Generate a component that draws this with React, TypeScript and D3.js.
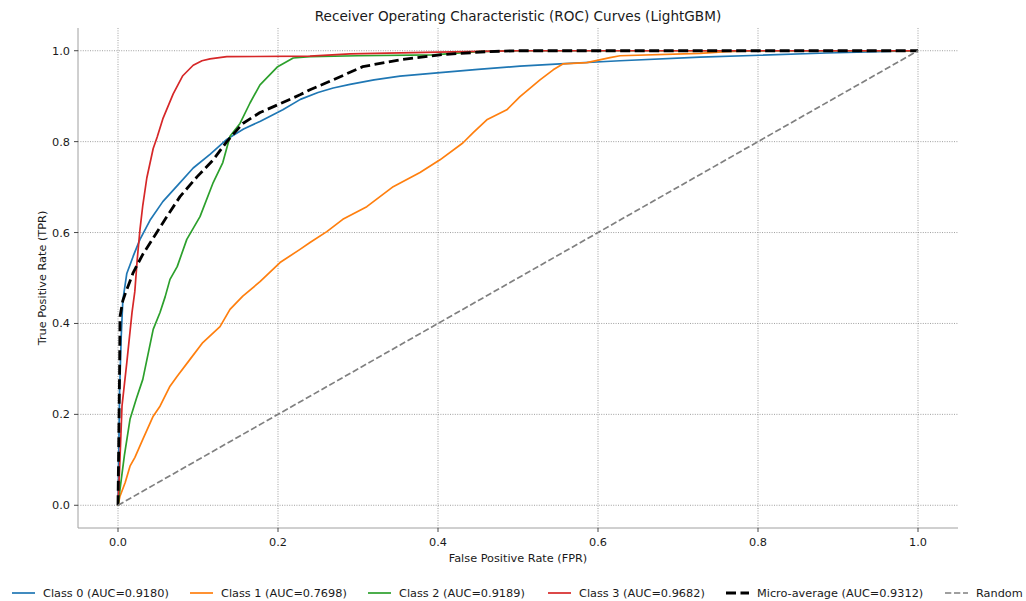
import React from 'react';
import * as d3 from 'd3';

// ROC points, [fpr, tpr]
const class0Roc: [number, number][] = [
  [0, 0], [0.001, 0.12], [0.002, 0.25], [0.004, 0.37], [0.006, 0.45], [0.011, 0.51],
  [0.019, 0.548], [0.0275, 0.585], [0.04, 0.627], [0.056, 0.668], [0.075, 0.705],
  [0.094, 0.742], [0.115, 0.772], [0.136, 0.805], [0.157, 0.828], [0.178, 0.845],
  [0.206, 0.87], [0.228, 0.893], [0.25, 0.908], [0.269, 0.918], [0.29, 0.926],
  [0.32, 0.936], [0.3525, 0.944], [0.4025, 0.952], [0.45, 0.959], [0.5025, 0.966],
  [0.5525, 0.971], [0.6275, 0.978], [0.7275, 0.986], [0.8025, 0.99], [0.886, 0.995], [1, 1],
];

const class1Roc: [number, number][] = [
  [0, 0], [0.0025, 0.02], [0.009, 0.05], [0.015, 0.086], [0.021, 0.105], [0.031, 0.145],
  [0.044, 0.196], [0.0525, 0.218], [0.065, 0.262], [0.074, 0.284], [0.09, 0.321],
  [0.106, 0.358], [0.1275, 0.393], [0.14, 0.431], [0.156, 0.46], [0.1775, 0.492],
  [0.2025, 0.534], [0.2275, 0.563], [0.24, 0.578], [0.261, 0.602], [0.281, 0.629],
  [0.311, 0.657], [0.344, 0.701], [0.3775, 0.732], [0.4025, 0.76], [0.431, 0.797],
  [0.444, 0.82], [0.461, 0.848], [0.486, 0.87], [0.5025, 0.899], [0.5275, 0.936],
  [0.544, 0.958], [0.556, 0.971], [0.586, 0.974], [0.615, 0.985], [0.6275, 0.989],
  [0.7275, 0.994], [0.76, 0.998], [0.8, 1], [1, 1],
];

const class2Roc: [number, number][] = [
  [0, 0], [0.0025, 0.035], [0.008, 0.11], [0.015, 0.189], [0.023, 0.235], [0.031, 0.277],
  [0.044, 0.387], [0.0525, 0.424], [0.059, 0.459], [0.065, 0.497], [0.074, 0.525],
  [0.086, 0.585], [0.1025, 0.635], [0.119, 0.71], [0.131, 0.754], [0.14, 0.812],
  [0.1525, 0.84], [0.165, 0.885], [0.1775, 0.925], [0.199, 0.964], [0.219, 0.984],
  [0.24, 0.987], [0.3, 0.989], [0.394, 0.991], [0.45, 0.998], [0.5, 1], [1, 1],
];

const class3Roc: [number, number][] = [
  [0, 0], [0.002, 0.08], [0.005, 0.218], [0.011, 0.314], [0.0175, 0.424], [0.021, 0.47],
  [0.024, 0.54], [0.0275, 0.607], [0.031, 0.66], [0.036, 0.72], [0.044, 0.785],
  [0.049, 0.81], [0.056, 0.85], [0.069, 0.905], [0.081, 0.945], [0.094, 0.968],
  [0.105, 0.978], [0.115, 0.982], [0.136, 0.987], [0.24, 0.988], [0.29, 0.993],
  [0.4, 0.997], [0.5, 1], [1, 1],
];

const microRoc: [number, number][] = [
  [0, 0], [0.001, 0.15], [0.002, 0.3], [0.0025, 0.415], [0.006, 0.45], [0.009, 0.465],
  [0.019, 0.512], [0.031, 0.552], [0.044, 0.588], [0.061, 0.635], [0.0775, 0.679],
  [0.099, 0.723], [0.119, 0.76], [0.136, 0.8], [0.156, 0.84], [0.1775, 0.864],
  [0.206, 0.886], [0.2275, 0.903], [0.24, 0.914], [0.269, 0.936], [0.306, 0.965],
  [0.3525, 0.98], [0.4025, 0.991], [0.461, 0.998], [0.5, 1], [1, 1],
];

const randomRoc: [number, number][] = [[0, 0], [1, 1]];

const seriesLabels = [
  'Class 0 (AUC=0.9180)',
  'Class 1 (AUC=0.7698)',
  'Class 2 (AUC=0.9189)',
  'Class 3 (AUC=0.9682)',
  'Micro-average (AUC=0.9312)',
  'Random',
];

const ticks = [0, 0.2, 0.4, 0.6, 0.8, 1.0];

const App = () => {
  const width = 1026;
  const height = 601;
  const margin = { top: 28, right: 68, bottom: 73, left: 78 };
  const font = '"DejaVu Sans", sans-serif';

  const xScale = d3
    .scaleLinear()
    .domain([-0.05, 1.05])
    .range([margin.left, width - margin.right]);
  const yScale = d3
    .scaleLinear()
    .domain([-0.05, 1.05])
    .range([height - margin.bottom, margin.top]);

  const line = d3
    .line<[number, number]>()
    .x(d => xScale(d[0]))
    .y(d => yScale(d[1]));

  const series = [
    { data: class0Roc, color: '#1f77b4', width: 1.7, dash: undefined },
    { data: class1Roc, color: '#ff7f0e', width: 1.7, dash: undefined },
    { data: class2Roc, color: '#2ca02c', width: 1.7, dash: undefined },
    { data: class3Roc, color: '#d62728', width: 1.7, dash: undefined },
    { data: microRoc, color: '#000000', width: 2.8, dash: '10,4.5' },
    { data: randomRoc, color: '#808080', width: 1.7, dash: '6.3,2.7' },
  ];

  // legend columns along the bottom
  const legendX = [12, 190, 368, 548, 726, 945];
  const legendY = 593;

  const x0 = xScale.range()[0];
  const x1 = xScale.range()[1];
  const y0 = yScale.range()[0];
  const y1 = yScale.range()[1];

  return (
    <div style={{ position: 'absolute', left: 0, top: 0 }}>
      <svg width={width} height={height} style={{ display: 'block', fontFamily: font }}>
        <rect width={width} height={height} fill='#ffffff' />
        <g>
          {ticks.map(t => (
            <line key={`gx-${t}`} x1={xScale(t)} x2={xScale(t)} y1={y1} y2={y0}
              stroke='#888' strokeWidth='0.8' strokeDasharray='1,1.4' />
          ))}
          {ticks.map(t => (
            <line key={`gy-${t}`} x1={x0} x2={x1} y1={yScale(t)} y2={yScale(t)}
              stroke='#888' strokeWidth='0.8' strokeDasharray='1,1.4' />
          ))}
        </g>
        <g>
          {series.map((s, i) => (
            <path key={`s-${i}`} d={line(s.data) || ''} fill='none' stroke={s.color}
              strokeWidth={s.width} strokeDasharray={s.dash} strokeLinejoin='round' />
          ))}
        </g>
        <line x1={x0} x2={x0} y1={y1} y2={y0} stroke='#a0a0a0' strokeWidth='1' />
        <line x1={x0} x2={x1} y1={y0} y2={y0} stroke='#a0a0a0' strokeWidth='1' />
        {ticks.map(t => (
          <g key={`tx-${t}`}>
            <line x1={xScale(t)} x2={xScale(t)} y1={y0} y2={y0 + 4} stroke='#333' strokeWidth='0.9' />
            <text x={xScale(t)} y={y0 + 18} textAnchor='middle' fontSize='11.3' fill='#1a1a1a'>
              {d3.format('.1f')(t)}
            </text>
          </g>
        ))}
        {ticks.map(t => (
          <g key={`ty-${t}`}>
            <line x1={x0 - 4} x2={x0} y1={yScale(t)} y2={yScale(t)} stroke='#333' strokeWidth='0.9' />
            <text x={x0 - 8} y={yScale(t)} dy='0.35em' textAnchor='end' fontSize='11.3' fill='#1a1a1a'>
              {d3.format('.1f')(t)}
            </text>
          </g>
        ))}
        <text x={(x0 + x1) / 2} y={y0 + 34} textAnchor='middle' fontSize='11.3' fill='#1a1a1a'>
          False Positive Rate (FPR)
        </text>
        <text transform={`translate(46, ${(y0 + y1) / 2}) rotate(-90)`} textAnchor='middle'
          fontSize='11.3' fill='#1a1a1a'>
          True Positive Rate (TPR)
        </text>
        <text x={(x0 + x1) / 2} y={21} textAnchor='middle' fontSize='13.6' fill='#1a1a1a'>
          Receiver Operating Characteristic (ROC) Curves (LightGBM)
        </text>
        <g>
          {series.map((s, i) => (
            <g key={`lg-${i}`}>
              <line x1={legendX[i]} x2={legendX[i] + 23} y1={legendY} y2={legendY}
                stroke={s.color} strokeWidth={s.width} strokeDasharray={s.dash} />
              <text x={legendX[i] + 31} y={legendY} dy='0.35em' fontSize='11.3' fill='#1a1a1a'>
                {seriesLabels[i]}
              </text>
            </g>
          ))}
        </g>
      </svg>
    </div>
  );
};

export default App;
